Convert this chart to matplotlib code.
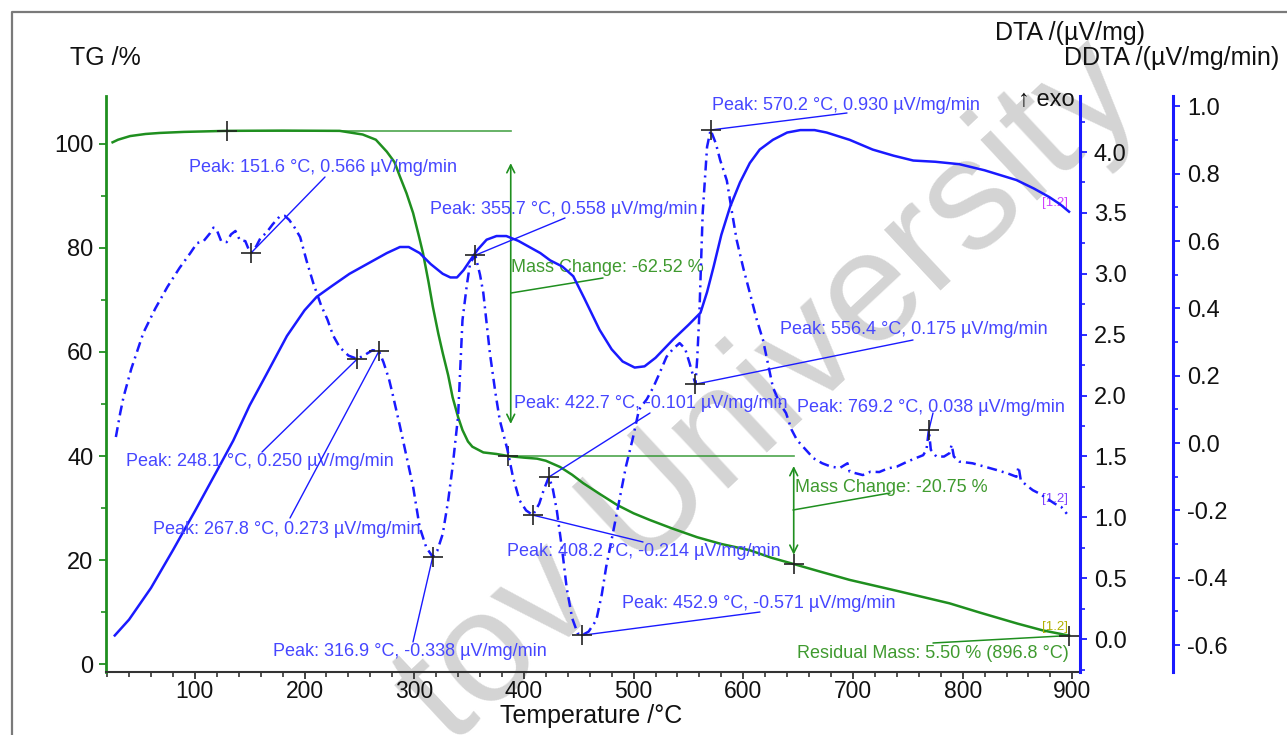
""" TG / DTA / DDTA thermal analysis chart (three y axes)."""
import matplotlib
matplotlib.use('Agg')
import matplotlib.pyplot as plt
from matplotlib.lines import Line2D
from matplotlib.ticker import MultipleLocator

plt.rcParams['font.family'] = ['Liberation Sans', 'DejaVu Sans']
plt.rcParams['axes.unicode_minus'] = False

# ---- data ----
# TG curve, mass in %
tg_temp = [25, 30, 41, 55, 68, 90, 129, 180, 232, 253, 265, 275, 282, 287, 293, 299,
           304, 308, 313, 317, 322, 326, 331, 335, 340, 344, 349, 353, 363, 375, 386,
           400, 412, 420, 433, 444, 454, 470, 485, 500, 515, 535, 558, 580, 606, 625,
           646, 670, 697, 740, 788, 816, 850, 873, 897]
tg_mass = [100.3, 100.8, 101.5, 101.9, 102.1, 102.3, 102.5, 102.55, 102.5, 101.8, 100.8,
           98.5, 96.5, 93.7, 90.5, 86.7, 82.5, 79.0, 73.5, 68.7, 63.5, 59.8, 55.5, 51.3,
           47.5, 45.0, 42.8, 41.8, 40.7, 40.4, 40.0, 39.7, 39.5, 39.1, 37.9, 36.4, 34.8,
           32.6, 30.6, 29.0, 27.7, 26.1, 24.4, 23.1, 21.9, 20.5, 19.25, 17.8, 16.2, 14.1,
           11.7, 9.9, 7.8, 6.5, 5.5]

# DTA curve, uV/mg
dta_temp = [27, 40, 60, 80, 100, 120, 135, 150, 165, 184, 200, 211, 225, 241, 253, 265,
            275, 287, 295, 305, 315, 326, 333, 339, 345, 351, 358, 366, 375, 384, 395,
            405, 415, 424, 435, 445, 455, 469, 480, 490, 501, 510, 520, 536, 550, 561,
            567, 573, 580, 588, 597, 606, 615, 627, 640, 652, 665, 676, 697, 718, 737,
            755, 775, 797, 820, 849, 865, 879, 889, 897]
dta_val = [0.03, 0.16, 0.42, 0.73, 1.05, 1.38, 1.63, 1.92, 2.17, 2.49, 2.70, 2.81, 2.90,
           3.00, 3.06, 3.12, 3.17, 3.22, 3.22, 3.17, 3.08, 3.00, 2.97, 2.97, 3.03, 3.11,
           3.20, 3.28, 3.31, 3.31, 3.27, 3.22, 3.17, 3.11, 3.06, 2.98, 2.80, 2.54, 2.38,
           2.28, 2.23, 2.24, 2.31, 2.46, 2.58, 2.68, 2.85, 3.06, 3.32, 3.55, 3.75, 3.91,
           4.02, 4.10, 4.16, 4.18, 4.18, 4.16, 4.10, 4.02, 3.97, 3.93, 3.92, 3.90, 3.85,
           3.77, 3.70, 3.63, 3.57, 3.51]

# DDTA curve, uV/mg/min
ddta_temp = [28, 32, 35, 42, 53, 64, 75, 86, 96, 102, 108, 114, 117, 120, 124, 129, 133,
             137, 141, 146, 150, 151.6, 156, 160, 165, 171, 177, 182, 186, 191, 196, 202,
             208, 215, 221, 226, 232, 240, 248.1, 255, 262, 267.8, 272, 277, 280, 287,
             293, 299, 305, 311, 316.9, 321, 326, 331, 335, 340, 344, 348, 351, 355.7,
             360, 363, 369, 374, 378, 385, 390, 396, 402, 408.2, 414, 418, 422.7, 426,
             430, 435, 439, 444, 449, 452.9, 459, 466, 471, 475, 481, 487, 493, 499, 505,
             512, 518, 524, 530, 536, 542, 547, 551, 556.4, 558, 560, 563, 567, 570.2,
             575, 579, 585, 590, 594, 600, 606, 612, 618, 627, 633, 639, 644, 649, 657,
             664, 672, 680, 688, 695, 697, 703, 709, 716, 724, 732, 740, 749, 757, 764,
             767, 769.2, 771, 776, 783, 788, 790, 792, 797, 809, 820, 831, 841, 849, 851,
             853, 858, 864, 870, 877, 884, 890, 895]
ddta_val = [0.018, 0.09, 0.137, 0.22, 0.327, 0.40, 0.464, 0.52, 0.565, 0.594, 0.60, 0.624,
            0.64, 0.633, 0.60, 0.597, 0.62, 0.63, 0.603, 0.60, 0.568, 0.566, 0.585, 0.61,
            0.624, 0.65, 0.672, 0.675, 0.663, 0.64, 0.612, 0.54, 0.475, 0.41, 0.366, 0.32,
            0.285, 0.26, 0.250, 0.262, 0.276, 0.273, 0.24, 0.19, 0.15, 0.05, -0.04, -0.13,
            -0.25, -0.31, -0.338, -0.32, -0.27, -0.17, -0.07, 0.08, 0.365, 0.47, 0.535,
            0.558, 0.50, 0.446, 0.267, 0.15, 0.068, -0.02, -0.10, -0.17, -0.20, -0.214,
            -0.18, -0.14, -0.101, -0.13, -0.20, -0.32, -0.43, -0.52, -0.565, -0.571, -0.56,
            -0.526, -0.45, -0.368, -0.27, -0.17, -0.07, 0.01, 0.10, 0.13, 0.166, 0.21,
            0.256, 0.28, 0.297, 0.28, 0.238, 0.175, 0.25, 0.386, 0.683, 0.88, 0.930, 0.89,
            0.84, 0.78, 0.68, 0.603, 0.52, 0.446, 0.37, 0.306, 0.166, 0.12, 0.089, 0.04,
            0.009, -0.02, -0.045, -0.06, -0.07, -0.074, -0.06, -0.085, -0.09, -0.095,
            -0.085, -0.086, -0.075, -0.07, -0.056, -0.045, -0.036, -0.02, 0.038, -0.02,
            -0.04, -0.04, -0.03, -0.005, -0.04, -0.055, -0.06, -0.07, -0.08, -0.09, -0.10,
            -0.07, -0.11, -0.125, -0.14, -0.15, -0.165, -0.18, -0.19, -0.21]

# DDTA peaks that carry a label
peak_temp = [151.6, 248.1, 267.8, 316.9, 355.7, 408.2, 422.7, 452.9, 556.4, 570.2, 769.2]
peak_val = [0.566, 0.250, 0.273, -0.338, 0.558, -0.214, -0.101, -0.571, 0.175, 0.930, 0.038]

# TG steps: start plateau, step ends, residual
step_temp = [129, 385.6, 646, 896.8]
step_mass = [102.5, 39.98, 19.23, 5.50]
mass_change = [-62.52, -20.75]

# colours
blue = '#1a1aff'
text_blue = '#4646ff'
green = '#1f8f1f'
text_green = '#3f9a2f'

W, H = 1287, 735
L, R, B, T = 106, 1080, 672, 96


def frac(x, y):
    """pixel position in the picture -> axes fraction"""
    return (x - L) / (R - L), (B - y) / (B - T)


fig = plt.figure(figsize=(W / 100, H / 100), dpi=100)
ax = fig.add_axes([L / W, 1 - B / H, (R - L) / W, (B - T) / H])
ax.patch.set_visible(False)
ax2 = ax.twinx()
ax3 = ax.twinx()

# grey frame round the figure
fig.add_artist(Line2D([12 / W, 12 / W, 1], [0, 1 - 12 / H, 1 - 12 / H],
                      color='#7a7a7a', lw=1.6))

# watermark
fig.text(770 / W, 1 - 394 / H, 'tov University', rotation=43, fontsize=114,
         color='#d4d4d4', ha='center', va='center', zorder=-1)

# ---- curves ----
ax.plot(tg_temp, tg_mass, color=green, lw=1.8)
ax2.plot(dta_temp, dta_val, color=blue, lw=1.8)
ax3.plot(ddta_temp, ddta_val, color=blue, lw=1.8, linestyle=(0, (4, 2, 0.8, 2)))

# ---- axes ----
ax.set_xlim(19, 907)
ax.set_ylim(-1.5, 109.2)
ax2.set_ylim(-0.27, 4.46)
ax3.set_ylim(-0.68, 1.031)

for s in ['top', 'right']:
    ax.spines[s].set_visible(False)
ax.spines['left'].set_color(green)
ax.spines['left'].set_linewidth(2)
ax.spines['bottom'].set_color('#333333')
ax.spines['bottom'].set_linewidth(1.5)
for a in [ax2, ax3]:
    for s in ['top', 'left', 'bottom']:
        a.spines[s].set_visible(False)
    a.spines['right'].set_color(blue)
    a.spines['right'].set_linewidth(2.2)
ax3.spines['right'].set_position(('outward', 93 * 0.72))

ax.xaxis.set_major_locator(MultipleLocator(100))
ax.xaxis.set_minor_locator(MultipleLocator(20))
ax.yaxis.set_major_locator(MultipleLocator(20))
ax.yaxis.set_minor_locator(MultipleLocator(10))
ax2.yaxis.set_major_locator(MultipleLocator(0.5))
ax2.yaxis.set_minor_locator(MultipleLocator(0.25))
ax3.yaxis.set_major_locator(MultipleLocator(0.2))
ax3.yaxis.set_minor_locator(MultipleLocator(0.1))
ax2.yaxis.set_major_formatter(plt.FormatStrFormatter('%.1f'))
ax3.yaxis.set_major_formatter(plt.FormatStrFormatter('%.1f'))

ax.tick_params(axis='x', which='major', length=5, width=1.3, colors='#333333',
               labelsize=16.5, labelcolor='#111111', pad=1)
ax.tick_params(axis='x', which='minor', length=3.5, width=1.2, colors='#333333')
ax.tick_params(axis='y', which='major', length=5, width=1.3, colors=green,
               labelsize=17, labelcolor='#111111', pad=4)
ax.tick_params(axis='y', which='minor', length=3.5, width=1.2, colors=green)
for a in [ax2, ax3]:
    a.tick_params(axis='y', which='major', length=5, width=1.3, colors=blue,
                  labelsize=17, labelcolor='#111111', pad=5)
    a.tick_params(axis='y', which='minor', length=3.5, width=1.2, colors=blue)

# axis titles
fig.text(70 / W, 1 - 58 / H, 'TG /%', fontsize=18, va='center', color='#111111')
fig.text(995 / W, 1 - 33 / H, 'DTA /(µV/mg)', fontsize=18, va='center', color='#111111')
fig.text(1064 / W, 1 - 58 / H, 'DDTA /(µV/mg/min)', fontsize=18, va='center',
         color='#111111')
fig.text(500 / W, 1 - 716 / H, 'Temperature /°C', fontsize=18, va='center',
         color='#111111')
fig.text(1018 / W, 1 - 100 / H, '↑ exo', fontsize=17, va='center', color='#111111')

# ---- peak labels on DDTA ----
# (text left x, text centre y, leader line end x, y) in picture pixels
label_pos = [(189, 167, 325, 177), (126, 462, 262, 452), (153, 530, 290, 518),
             (273, 652, 413, 642), (430, 209, 565, 218), (507, 552, 643, 542),
             (514, 403, 650, 413), (622, 603, 760, 612), (780, 330, 913, 340),
             (712, 105, 847, 113), (797, 407, 933, 413)]

ax3.plot(peak_temp, peak_val, '+', color='#222222', ms=14, mew=1.2, zorder=5)
for t, v, (tx, ty, lx, ly) in zip(peak_temp, peak_val, label_pos):
    ax3.annotate('', xy=(t, v), xycoords='data', xytext=frac(lx, ly),
                 textcoords='axes fraction',
                 arrowprops=dict(arrowstyle='-', color=blue, lw=1, shrinkA=0, shrinkB=0))
    ax3.text(*frac(tx, ty), 'Peak: %.1f °C, %.3f µV/mg/min' % (t, v),
             transform=ax3.transAxes, fontsize=13, color=text_blue, va='center')

# ---- TG steps ----
ax.plot(step_temp, step_mass, '+', color='#222222', ms=14, mew=1.2, zorder=5)
arrow_x = [388, 646]
arrow_gap = [(6.2, 6.2), (1.9, 1.8)]
mc_pos = [(511, 268, 511, 293, 603, 278), (795, 487, 793, 510, 890, 493)]
for i in range(2):
    ax.plot([step_temp[i], arrow_x[i]], [step_mass[i], step_mass[i]], color=green,
            lw=1.2, alpha=0.8)
    ax.annotate('', xy=(arrow_x[i], step_mass[i] - arrow_gap[i][0]),
                xytext=(arrow_x[i], step_mass[i + 1] + arrow_gap[i][1]),
                arrowprops=dict(arrowstyle='<->', color=green, lw=1.2,
                                mutation_scale=14, shrinkA=0, shrinkB=0))
    tx, ty, ax0, ay0, ax1, ay1 = mc_pos[i]
    ax.annotate('', xy=frac(ax0, ay0), xycoords='axes fraction', xytext=frac(ax1, ay1),
                arrowprops=dict(arrowstyle='-', color=green, lw=1.1, shrinkA=0, shrinkB=0))
    ax.text(*frac(tx, ty), 'Mass Change: %.2f %%' % mass_change[i],
            transform=ax.transAxes, fontsize=13, color=text_green, va='center')

ax.annotate('', xy=(step_temp[3], step_mass[3]), xytext=frac(933, 643),
            textcoords='axes fraction',
            arrowprops=dict(arrowstyle='-', color=green, lw=1.1, shrinkA=0, shrinkB=0))
ax.text(*frac(797, 653), 'Residual Mass: %.2f %% (%.1f °C)' % (step_mass[3], step_temp[3]),
        transform=ax.transAxes, fontsize=13, color=text_green, va='center')

# small segment tags at the curve ends
ax.text(*frac(1042, 630), '[1.2]', transform=ax.transAxes, fontsize=9.5, color='#b0b000')
ax.text(*frac(1042, 206), '[1.2]', transform=ax.transAxes, fontsize=9.5, color='#d040ff')
ax.text(*frac(1042, 502), '[1.2]', transform=ax.transAxes, fontsize=9.5, color='#8040ff')

fig.savefig('out.png', dpi=100)
